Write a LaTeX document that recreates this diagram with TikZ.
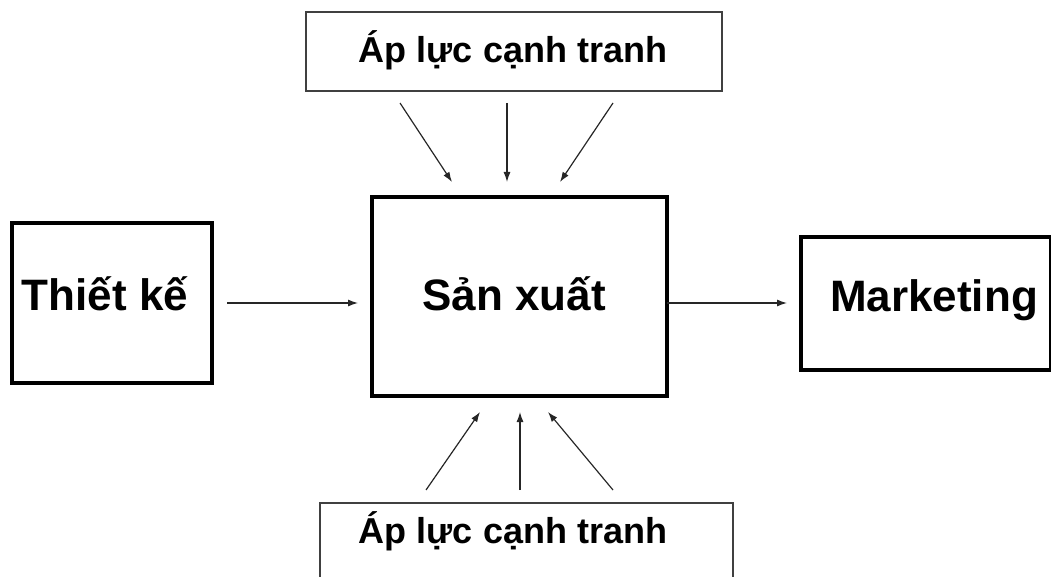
\documentclass[tikz,border=0pt]{standalone}
\usepackage{fontspec}
\setmainfont{Liberation Sans}
\usetikzlibrary{arrows.meta,calc}

\tikzset{
  thickbox/.style={draw=black, line width=3.4pt, rectangle, inner sep=0pt, outer sep=0pt},
  thinbox/.style={draw=black!75, line width=1.5pt, rectangle, inner sep=0pt, outer sep=0pt},
  bigtxt/.style={font=\bfseries\fontsize{44}{48}\selectfont, inner sep=0pt, anchor=base},
  smalltxt/.style={font=\bfseries\fontsize{36}{40}\selectfont, inner sep=0pt, anchor=base},
  arr/.style={draw=black!85, line width=1.2pt, -{Latex[length=10pt,width=7pt]}}
}

\begin{document}
\begin{tikzpicture}[x=1pt,y=-1pt]
  \useasboundingbox (0,0) rectangle (1051,577);

  % boxes
  \node[thinbox,  minimum width=416pt, minimum height=79pt]  (top)  at (514,51.5) {};
  \node[thickbox, minimum width=295pt, minimum height=199pt] (prod) at (519.5,296.5) {};
  \node[thickbox, minimum width=200pt, minimum height=160pt] (des)  at (112,303) {};
  \node[thickbox, minimum width=250pt, minimum height=133pt] (mkt)  at (926,303.5) {};
  \node[thinbox,  minimum width=413pt, minimum height=110pt] (bot)  at (526.5,558) {};

  % labels
  \node[smalltxt] (topT)  at (513,63)  {Áp lực cạnh tranh};
  \node[bigtxt]   (prodT) at (514,310) {Sản xuất};
  \node[bigtxt]   (desT)  at (105,310) {Thiết kế};
  \node[bigtxt]   (mktT)  at (934,311) {Marketing};
  \node[smalltxt] (botT)  at (513,543) {Áp lực cạnh tranh};

  % pressure from above
  \draw[arr] ($(top.south west)+(94,12)$)  -- ($(prod.north west)+(80,-15)$);
  \draw[arr] ($(top.south west)+(201,12)$) -- ($(prod.north west)+(135,-15)$);
  \draw[arr] ($(top.south west)+(307,12)$) -- ($(prod.north west)+(188,-15)$);

  % pressure from below
  \draw[arr] ($(bot.north west)+(106,-13)$) -- ($(prod.south west)+(108,16)$);
  \draw[arr] ($(bot.north west)+(200,-13)$) -- ($(prod.south west)+(148,16)$);
  \draw[arr] ($(bot.north west)+(293,-13)$) -- ($(prod.south west)+(176,16)$);

  % flow design -> production -> marketing
  \draw[arr] ($(des.east)+(15,0)$) -- ($(prod.west)+(-14,6.5)$);
  \draw[arr] ($(prod.east)+(0,6.5)$) -- ($(mkt.west)+(-14,-0.5)$);
\end{tikzpicture}
\end{document}
